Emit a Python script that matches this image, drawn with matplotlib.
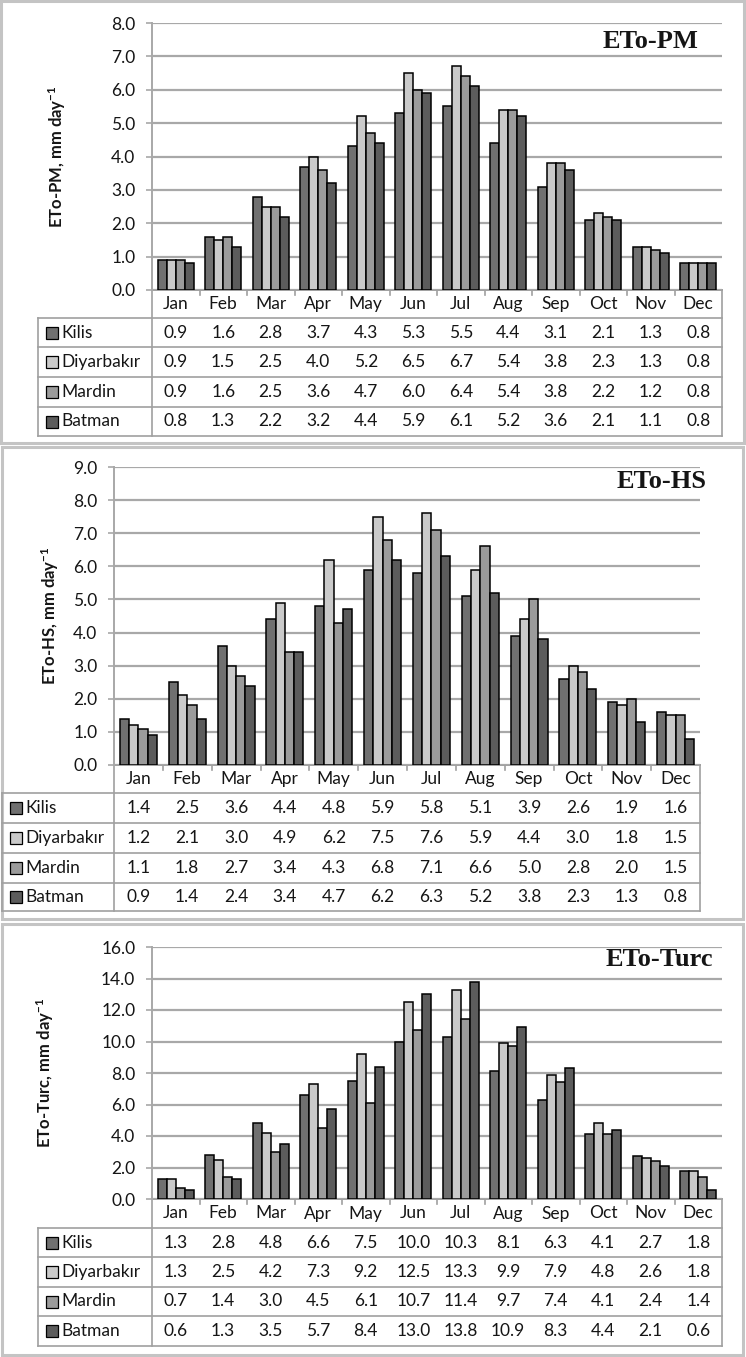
import numpy as np
import matplotlib
matplotlib.use("Agg")
import matplotlib.pyplot as plt
from matplotlib.patches import Rectangle
from matplotlib.transforms import blended_transform_factory

plt.rcParams['font.family'] = ['Lato', 'DejaVu Sans']
plt.rcParams['mathtext.fontset'] = 'custom'
plt.rcParams['mathtext.bf'] = 'Lato:bold'
plt.rcParams['mathtext.rm'] = 'Lato'
plt.rcParams['mathtext.default'] = 'bf'

# ---- data ----
months = ['Jan', 'Feb', 'Mar', 'Apr', 'May', 'Jun', 'Jul', 'Aug', 'Sep', 'Oct', 'Nov', 'Dec']
stations = ['Kilis', 'Diyarbakır', 'Mardin', 'Batman']
station_colors = ['#707070', '#cacaca', '#9b9b9b', '#5c5c5c']

pm_kilis = [0.9, 1.6, 2.8, 3.7, 4.3, 5.3, 5.5, 4.4, 3.1, 2.1, 1.3, 0.8]
pm_diyarbakir = [0.9, 1.5, 2.5, 4.0, 5.2, 6.5, 6.7, 5.4, 3.8, 2.3, 1.3, 0.8]
pm_mardin = [0.9, 1.6, 2.5, 3.6, 4.7, 6.0, 6.4, 5.4, 3.8, 2.2, 1.2, 0.8]
pm_batman = [0.8, 1.3, 2.2, 3.2, 4.4, 5.9, 6.1, 5.2, 3.6, 2.1, 1.1, 0.8]

hs_kilis = [1.4, 2.5, 3.6, 4.4, 4.8, 5.9, 5.8, 5.1, 3.9, 2.6, 1.9, 1.6]
hs_diyarbakir = [1.2, 2.1, 3.0, 4.9, 6.2, 7.5, 7.6, 5.9, 4.4, 3.0, 1.8, 1.5]
hs_mardin = [1.1, 1.8, 2.7, 3.4, 4.3, 6.8, 7.1, 6.6, 5.0, 2.8, 2.0, 1.5]
hs_batman = [0.9, 1.4, 2.4, 3.4, 4.7, 6.2, 6.3, 5.2, 3.8, 2.3, 1.3, 0.8]

turc_kilis = [1.3, 2.8, 4.8, 6.6, 7.5, 10.0, 10.3, 8.1, 6.3, 4.1, 2.7, 1.8]
turc_diyarbakir = [1.3, 2.5, 4.2, 7.3, 9.2, 12.5, 13.3, 9.9, 7.9, 4.8, 2.6, 1.8]
turc_mardin = [0.7, 1.4, 3.0, 4.5, 6.1, 10.7, 11.4, 9.7, 7.4, 4.1, 2.4, 1.4]
turc_batman = [0.6, 1.3, 3.5, 5.7, 8.4, 13.0, 13.8, 10.9, 8.3, 4.4, 2.1, 0.6]

titles = ['ETo-PM', 'ETo-HS', 'ETo-Turc']
series = [
    [pm_kilis, pm_diyarbakir, pm_mardin, pm_batman],
    [hs_kilis, hs_diyarbakir, hs_mardin, hs_batman],
    [turc_kilis, turc_diyarbakir, turc_mardin, turc_batman],
]
y_max = [8, 9, 16]
y_step = [1, 1, 2]

# ---- layout in pixels (746 x 1357) ----
W, H = 746, 1357
panel_box = [(1, 1, 744, 443), (2, 447, 743, 919), (2, 924, 743, 1355)]
plot_box = [(152, 23, 722, 290), (114, 467, 700, 765), (152, 947, 722, 1199)]
row_edges = [[290, 318, 347, 377, 407, 436],
             [765, 793, 823, 853, 883, 911],
             [1199, 1228, 1257, 1287, 1316, 1346]]
legend_left = [38, 2, 38]
title_pos = [(698, 42), (707, 482), (713, 960)]
ylabel_x = [68, 61, 56]  # right edge of the rotated label

fig = plt.figure(figsize=(W / 100, H / 100), dpi=100)
over = fig.add_axes([0, 0, 1, 1])
over.set_xlim(0, W)
over.set_ylim(H, 0)
over.axis('off')

grid_c = '#a8a8a8'
line_c = '#a0a0a0'
txt_c = '#151515'
fs = 12.5
bw = 0.19

for p in range(3):
    x0, y0, x1, y1 = plot_box[p]
    bx0, by0, bx1, by1 = panel_box[p]
    over.add_patch(Rectangle((bx0, by0), bx1 - bx0, by1 - by0, fill=False,
                             edgecolor='#c4c4c4', lw=2.2))

    ax = fig.add_axes([x0 / W, 1 - y1 / H, (x1 - x0) / W, (y1 - y0) / H])
    ax.set_facecolor('none')
    xs = np.arange(len(months))
    for k, vals in enumerate(series[p]):
        ax.bar(xs + (k - 1.5) * bw, vals, width=bw, color=station_colors[k],
               edgecolor='black', linewidth=1.1, zorder=3)
    ax.set_xlim(-0.5, 11.5)
    ax.set_ylim(0, y_max[p])
    ax.set_yticks(np.arange(0, y_max[p] + 0.01, y_step[p]))
    ax.set_yticklabels([f'{v:.1f}' for v in ax.get_yticks()], fontsize=fs, color=txt_c)
    ax.set_xticks([])
    ax.yaxis.grid(True, color=grid_c, lw=1.6, zorder=0)
    for s in ['top', 'right', 'bottom']:
        ax.spines[s].set_visible(False)
    ax.spines['left'].set_color(grid_c)
    ax.spines['left'].set_linewidth(1.4)
    ax.tick_params(axis='y', length=4, width=1.2, color=grid_c, pad=8)
    ax.set_ylabel(f'{titles[p]}, mm day$^{{-1}}$', fontsize=12, fontweight='bold', color=txt_c)
    ax.yaxis.set_label_coords((ylabel_x[p] - x0) / (x1 - x0), 0.5)

    tx, ty = title_pos[p]
    over.text(tx, ty, titles[p], ha='right', va='center', fontsize=19,
              fontweight='bold', family='Liberation Serif', color=txt_c)

    # data table under the axis
    rows = row_edges[p]
    lx = legend_left[p]
    over.plot([x0, x1], [rows[0], rows[0]], color=line_c, lw=1.4)
    for yy in rows[1:]:
        over.plot([lx, x1], [yy, yy], color=line_c, lw=1.2)
    over.plot([x0, x0], [rows[0], rows[-1]], color=line_c, lw=1.2)
    over.plot([x1, x1], [rows[0], rows[-1]], color=line_c, lw=1.2)
    over.plot([lx, lx], [rows[1], rows[-1]], color=line_c, lw=1.2)
    colw = (x1 - x0) / len(months)
    for i in range(1, len(months)):
        over.plot([x0 + i * colw] * 2, [rows[0], rows[0] + 5], color=line_c, lw=1.2)

    trans = blended_transform_factory(ax.transData, over.transData)
    hy = (rows[0] + rows[1]) / 2
    for i, m in enumerate(months):
        ax.text(i, hy, m, transform=trans, ha='center', va='center',
                fontsize=fs, color=txt_c, clip_on=False)
    for k, name in enumerate(stations):
        ry = (rows[k + 1] + rows[k + 2]) / 2
        over.add_patch(Rectangle((lx + 8, ry - 6), 12, 12, facecolor=station_colors[k],
                                 edgecolor='black', lw=0.9))
        over.text(lx + 23, ry, name, ha='left', va='center', fontsize=fs, color=txt_c)
        for i, v in enumerate(series[p][k]):
            ax.text(i, ry, f'{v:.1f}', transform=trans, ha='center', va='center',
                    fontsize=fs, color=txt_c, clip_on=False)

fig.savefig('out.png', dpi=100)
